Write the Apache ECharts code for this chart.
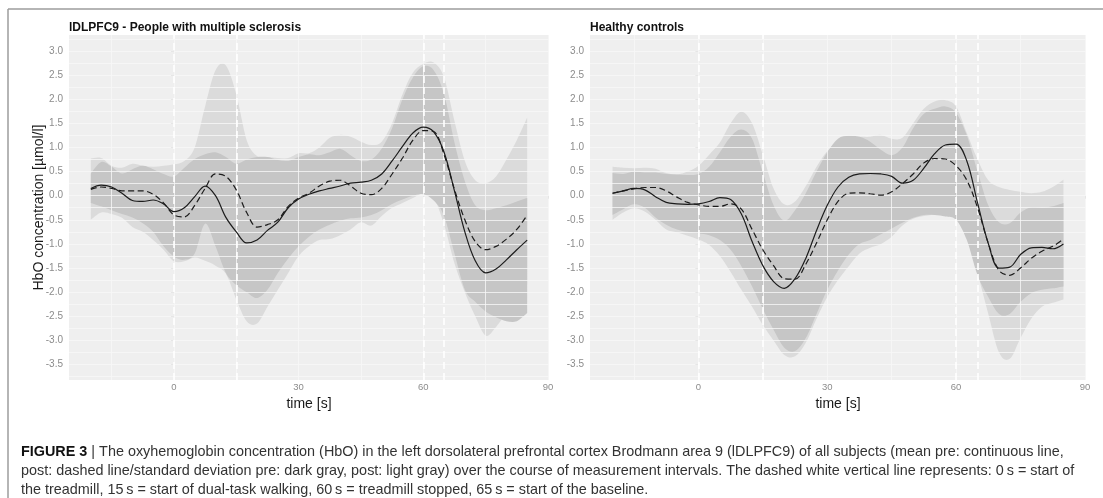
<!DOCTYPE html>
<html><head><meta charset="utf-8">
<script src="https://cdn.jsdelivr.net/npm/echarts@6/dist/echarts.min.js"></script>
<style>html,body{margin:0;padding:0;background:#fff;} #c{width:1103px;height:498px;}</style>
</head><body><div id="c"></div>
<script>
// ---- data (time in s, HbO in µmol/l) ----
const times = [-20,-17.5,-15,-12.5,-10,-7.5,-5,-2.5,0,2.5,5,7.5,10,12.5,15,17.5,20,22.5,25,27.5,30,32.5,35,37.5,40,42.5,45,47.5,50,52.5,55,57.5,60,62.5,65,67.5,70,72.5,75,77.5,80,82.5,85];

// People with multiple sclerosis
const msPreMean  = [0.15,0.22,0.18,0.05,-0.1,-0.12,-0.09,-0.17,-0.33,-0.25,-0.02,0.2,0.0,-0.45,-0.75,-0.98,-0.92,-0.72,-0.55,-0.25,-0.07,0.03,0.1,0.15,0.2,0.26,0.28,0.32,0.45,0.72,1.02,1.3,1.42,1.32,0.9,0.1,-0.75,-1.35,-1.6,-1.52,-1.33,-1.12,-0.92];
const msPostMean = [0.13,0.18,0.15,0.1,0.1,0.1,0.03,-0.15,-0.4,-0.44,-0.2,0.15,0.45,0.4,0.12,-0.35,-0.65,-0.6,-0.5,-0.22,-0.05,0.05,0.2,0.3,0.32,0.2,0.05,0.02,0.15,0.45,0.78,1.15,1.35,1.33,0.85,0.13,-0.5,-0.95,-1.12,-1.05,-0.9,-0.7,-0.4];
const msPreUpper = [0.46,0.7,0.6,0.46,0.55,0.62,0.55,0.45,0.4,0.58,0.76,0.86,0.9,0.8,0.66,0.75,0.8,0.8,0.74,0.72,0.8,0.86,0.84,0.9,0.97,0.84,0.72,0.75,0.98,1.4,2.0,2.45,2.68,2.6,2.1,1.1,0.3,-0.2,-0.3,-0.26,-0.2,-0.12,-0.05];
const msPreLower = [-0.15,-0.22,-0.3,-0.38,-0.45,-0.57,-0.75,-1.05,-1.26,-1.33,-1.2,-0.58,-1.05,-1.6,-1.85,-2.0,-2.12,-1.95,-1.6,-1.3,-1.05,-0.85,-0.7,-0.6,-0.52,-0.47,-0.45,-0.4,-0.3,-0.17,-0.08,0.0,0.03,-0.1,-0.42,-1.2,-1.95,-2.2,-2.4,-2.52,-2.6,-2.6,-2.43];
const msPostUpper = [0.77,0.78,0.62,0.58,0.66,0.62,0.6,0.62,0.65,0.72,1.0,1.85,2.6,2.7,2.1,1.15,0.82,0.8,0.78,0.78,0.88,0.88,1.0,1.2,1.26,1.22,1.12,1.05,1.12,1.5,2.1,2.55,2.73,2.76,2.45,1.55,0.72,0.32,0.26,0.4,0.75,1.15,1.62];
const msPostLower = [-0.5,-0.35,-0.38,-0.46,-0.65,-0.75,-0.92,-1.12,-1.36,-1.36,-1.28,-1.35,-1.45,-1.62,-2.15,-2.6,-2.65,-2.3,-1.95,-1.6,-1.25,-1.05,-0.92,-0.9,-0.82,-0.7,-0.55,-0.62,-0.42,-0.25,-0.15,-0.05,0.05,-0.05,-0.6,-1.4,-2.0,-2.5,-2.9,-2.72,-2.42,-2.1,-1.84];

// Healthy controls
const hcPreMean  = [0.05,0.1,0.15,0.12,-0.02,-0.14,-0.17,-0.18,-0.17,-0.12,-0.04,-0.08,-0.38,-0.95,-1.45,-1.78,-1.92,-1.72,-1.3,-0.72,-0.2,0.18,0.38,0.45,0.46,0.45,0.4,0.26,0.32,0.57,0.87,1.05,1.07,0.72,-0.15,-0.99,-1.5,-1.48,-1.22,-1.08,-1.07,-1.1,-1.0];
const hcPostMean = [0.05,0.1,0.14,0.17,0.17,0.1,-0.03,-0.14,-0.19,-0.22,-0.22,-0.17,-0.28,-0.7,-1.12,-1.45,-1.72,-1.73,-1.42,-0.98,-0.5,-0.12,0.05,0.06,0.04,0.01,0.08,0.25,0.45,0.68,0.77,0.76,0.62,0.32,-0.25,-0.99,-1.55,-1.65,-1.5,-1.3,-1.15,-1.05,-0.9];
const hcPreUpper = [0.47,0.45,0.5,0.48,0.48,0.45,0.44,0.43,0.45,0.6,0.9,1.22,1.37,1.18,0.48,-0.2,-0.52,-0.3,0.05,0.5,0.9,1.18,1.24,1.22,1.12,0.95,0.84,1.0,1.4,1.7,1.8,1.85,1.72,1.25,0.5,-0.2,-0.55,-0.57,-0.35,-0.24,-0.25,-0.22,-0.15];
const hcPreLower = [-0.4,-0.28,-0.18,-0.25,-0.45,-0.6,-0.7,-0.75,-0.78,-0.82,-0.92,-1.12,-1.46,-1.88,-2.35,-2.78,-3.15,-3.22,-2.95,-2.45,-1.95,-1.55,-1.22,-1.0,-0.92,-0.8,-0.68,-0.56,-0.46,-0.4,-0.4,-0.43,-0.5,-0.92,-1.65,-2.1,-2.45,-2.45,-2.2,-2.02,-1.95,-1.92,-1.88];
const hcPostUpper = [0.6,0.58,0.57,0.58,0.56,0.47,0.44,0.5,0.62,0.85,1.1,1.5,1.74,1.5,0.85,0.15,-0.18,-0.12,0.2,0.6,0.92,1.12,1.2,1.22,1.22,1.26,1.18,1.2,1.5,1.8,1.95,1.98,1.85,1.3,0.75,0.32,0.18,0.12,0.08,0.05,0.08,0.18,0.33];
const hcPostLower = [-0.5,-0.35,-0.26,-0.33,-0.5,-0.7,-0.76,-0.83,-0.91,-1.02,-1.25,-1.58,-1.95,-2.3,-2.68,-3.0,-3.3,-3.33,-3.05,-2.55,-2.1,-1.75,-1.46,-1.2,-1.08,-1.0,-0.85,-0.62,-0.48,-0.42,-0.39,-0.36,-0.39,-0.8,-1.6,-2.45,-3.25,-3.38,-2.95,-2.55,-2.3,-2.22,-2.15];

// ticks, grid values, event markers, texts
const xTicks = [0,30,60,90];
const xGridVals = [-15,0,15,30,45,60,75,90];
const yTicks = [-3.5,-3.0,-2.5,-2.0,-1.5,-1.0,-0.5,0.0,0.5,1.0,1.5,2.0,2.5,3.0];
const yGridVals = [-3.75,-3.5,-3.25,-3.0,-2.75,-2.5,-2.25,-2.0,-1.75,-1.5,-1.25,-1.0,-0.75,-0.5,-0.25,0,0.25,0.5,0.75,1.0,1.25,1.5,1.75,2.0,2.25,2.5,2.75,3.0,3.25];
const eventTimes = [0,15,60,65];
const panelTitles = ['lDLPFC9 - People with multiple sclerosis','Healthy controls'];
const yAxisTitle = 'HbO concentration [µmol/l]';
const xAxisTitle = 'time [s]';
const captionLines = [
  '{b|FIGURE 3} | The oxyhemoglobin concentration (HbO) in the left dorsolateral prefrontal cortex Brodmann area 9 (lDLPFC9) of all subjects (mean pre: continuous line,',
  'post: dashed line/standard deviation pre: dark gray, post: light gray) over the course of measurement intervals. The dashed white vertical line represents: 0\u2009s = start of',
  'the treadmill, 15\u2009s = start of dual-task walking, 60\u2009s = treadmill stopped, 65\u2009s = start of the baseline.'
];

const panels = [
  {pre: msPreMean, post: msPostMean, preUp: msPreUpper, preLo: msPreLower, postUp: msPostUpper, postLo: msPostLower},
  {pre: hcPreMean, post: hcPostMean, preUp: hcPreUpper, preLo: hcPreLower, postUp: hcPostUpper, postLo: hcPostLower}
];

const FONT = '"Liberation Sans", Arial, Helvetica, sans-serif';
const gridBoxes = [{left:69, top:35, width:480, height:345}, {left:590, top:35, width:496, height:345}];
const SMOOTH = 0.35;

const pairs = arr => times.map((t,i) => [t, arr[i]]);

// Catmull-Rom style smooth path through pixel points
function smoothPath(pts, moveFirst) {
  let d = (moveFirst ? 'M' : 'L') + pts[0][0] + ',' + pts[0][1];
  const k = 1/6;
  for (let i = 0; i < pts.length - 1; i++) {
    const p0 = pts[Math.max(i-1,0)], p1 = pts[i], p2 = pts[i+1], p3 = pts[Math.min(i+2, pts.length-1)];
    const c1x = p1[0] + (p2[0]-p0[0])*k, c1y = p1[1] + (p2[1]-p0[1])*k;
    const c2x = p2[0] - (p3[0]-p1[0])*k, c2y = p2[1] - (p3[1]-p1[1])*k;
    d += 'C' + c1x + ',' + c1y + ',' + c2x + ',' + c2y + ',' + p2[0] + ',' + p2[1];
  }
  return d;
}
function bandSeries(k, upper, lower, color, z) {
  return {
    type:'custom', coordinateSystem:'cartesian2d', xAxisIndex:k, yAxisIndex:k, z:z, silent:true, clip:true,
    data:[[times[0], lower[0]]],
    renderItem: (params, api) => {
      const up = times.map((t,i) => api.coord([t, upper[i]]));
      const lo = times.map((t,i) => api.coord([t, lower[i]])).reverse();
      const d = smoothPath(up, true) + smoothPath(lo, false) + 'Z';
      return {type:'path', shape:{pathData:d}, style:{fill:color, stroke:null}, silent:true};
    }
  };
}

const grid = [], xAxis = [], yAxis = [], series = [];
panels.forEach((p, k) => {
  grid.push(Object.assign({show:true, backgroundColor:'#efefef', borderWidth:0}, gridBoxes[k]));
  xAxis.push({
    gridIndex:k, type:'value', min:-25.25, max:90.25,
    axisLine:{show:false},
    axisTick:{show:true, customValues:xTicks, length:3, lineStyle:{color:'#8c8c8c', width:0.8}},
    axisLabel:{customValues:xTicks, color:'#8c8c8c', fontSize:9.5, margin:2, fontFamily:FONT},
    splitLine:{show:false},
    name:xAxisTitle, nameLocation:'middle', nameGap:17, nameMoveOverlap:false,
    nameTextStyle:{fontSize:14, color:'#1a1a1a', fontFamily:FONT}
  });
  yAxis.push({
    gridIndex:k, type:'value', min:-3.82, max:3.33,
    axisLine:{show:false},
    axisTick:{show:true, customValues:yTicks, length:3, lineStyle:{color:'#8c8c8c', width:0.8}},
    axisLabel:{customValues:yTicks, color:'#8c8c8c', fontSize:10, margin:6, fontFamily:FONT,
      formatter: v => Number(v).toFixed(1)},
    splitLine:{show:false},
    name: k === 0 ? yAxisTitle : '', nameLocation:'middle', nameGap:23, nameRotate:90, nameMoveOverlap:false,
    nameTextStyle:{fontSize:14, color:'#1a1a1a', fontFamily:FONT}
  });
  // background grid lines
  series.push({
    type:'line', xAxisIndex:k, yAxisIndex:k, data:[], z:1, silent:true,
    markLine:{silent:true, symbol:['none','none'], label:{show:false}, animation:false,
      lineStyle:{color:'#f7f7f7', width:0.8, type:'solid'},
      data: xGridVals.map(v => ({xAxis:v})).concat(yGridVals.map(v => ({yAxis:v})))}
  });
  // light band (post SD) then dark band (pre SD)
  series.push(bandSeries(k, p.postUp, p.postLo, '#dbdbdb', 2));
  series.push(bandSeries(k, p.preUp, p.preLo, '#c6c6c6', 3));
  // event lines
  series.push({
    type:'line', xAxisIndex:k, yAxisIndex:k, data:[], z:4, silent:true,
    markLine:{silent:true, symbol:['none','none'], label:{show:false}, animation:false,
      lineStyle:{color:'#ffffff', width:1.6, type:[7,4]},
      data: eventTimes.map(v => ({xAxis:v}))}
  });
  // mean lines
  series.push({type:'line', xAxisIndex:k, yAxisIndex:k, smooth:SMOOTH, symbol:'none', z:5, silent:true,
    data:pairs(p.pre), lineStyle:{color:'#1c1c1c', width:1.2}});
  series.push({type:'line', xAxisIndex:k, yAxisIndex:k, smooth:SMOOTH, symbol:'none', z:5, silent:true,
    data:pairs(p.post), lineStyle:{color:'#1c1c1c', width:1.2, type:[6,3.5]}});
});

const graphic = [
  {type:'line', shape:{x1:8, y1:9, x2:1103, y2:9}, style:{stroke:'#9c9c9c', lineWidth:1.5}, silent:true},
  {type:'line', shape:{x1:8, y1:9, x2:8, y2:498}, style:{stroke:'#9c9c9c', lineWidth:1.5}, silent:true}
];
captionLines.forEach((txt, i) => {
  graphic.push({type:'text', left:21, top:445 + i*19, silent:true,
    style:{text:txt, fontSize:14.4, fontFamily:FONT, fill:'#333333',
      rich:{b:{fontWeight:'bold', fontSize:14.4, fontFamily:FONT, fill:'#111111'}}}});
});

const option = {
  animation:false,
  backgroundColor:'#ffffff',
  textStyle:{fontFamily:FONT},
  title: panelTitles.map((t,k) => ({text:t, left:gridBoxes[k].left, top:22, padding:0,
    textStyle:{fontSize:12, fontWeight:'bold', color:'#111111', fontFamily:FONT}})),
  grid, xAxis, yAxis, series, graphic
};
const chart = echarts.init(document.getElementById('c'), null, {renderer:'canvas'});
chart.setOption(option);
</script></body></html>
